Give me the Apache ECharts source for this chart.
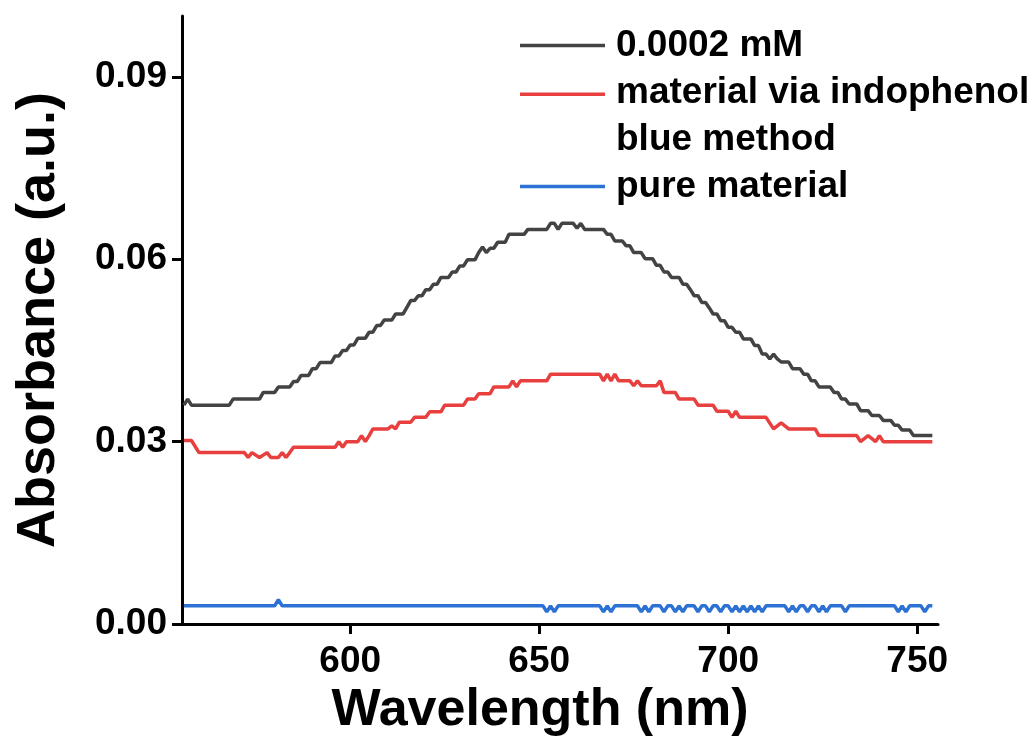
<!DOCTYPE html>
<html>
<head>
<meta charset="utf-8">
<script src="https://cdn.jsdelivr.net/npm/echarts@6/dist/echarts.min.js"></script>
<style>
html,body{margin:0;padding:0;background:#fff;}
#chart{width:1036px;height:742px;}
</style>
</head>
<body>
<div id="chart"></div>
<script>
// ---- data ----
const seriesNames = ['0.0002 mM', 'material via indophenol\nblue method', 'pure material'];
const xTicks = [600, 650, 700, 750];
const yTicks = [0, 0.03, 0.06, 0.09];

const wlBlack = [556,557,558,568,569,576,577,580,581,584,585,586,587,589,590,591,592,595,596,597,598,599,600,601,602,604,605,606,607,608,609,611,612,614,615,616,617,618,619,620,621,622,623,624,626,627,628,629,630,631,633,634,635,636,637,638,639,641,642,646,647,652,653,654,655,656,659,660,661,662,667,668,669,670,672,673,674,675,677,678,680,681,682,683,684,685,687,688,689,690,691,692,693,694,695,696,697,698,699,700,701,702,703,704,706,707,708,709,710,711,712,713,714,716,717,719,720,721,722,723,724,727,728,729,730,731,732,734,735,737,738,740,741,743,744,745,746,748,749,754];
const absBlack = [0.0360,0.0370,0.0360,0.0360,0.0370,0.0370,0.0381,0.0381,0.0390,0.0390,0.0399,0.0399,0.0409,0.0409,0.0420,0.0420,0.0430,0.0430,0.0441,0.0441,0.0450,0.0450,0.0459,0.0459,0.0470,0.0470,0.0480,0.0480,0.0491,0.0491,0.0500,0.0500,0.0510,0.0510,0.0521,0.0532,0.0532,0.0540,0.0540,0.0550,0.0550,0.0559,0.0559,0.0570,0.0570,0.0579,0.0579,0.0589,0.0589,0.0599,0.0599,0.0611,0.0620,0.0611,0.0618,0.0618,0.0628,0.0628,0.0641,0.0641,0.0649,0.0649,0.0659,0.0659,0.0649,0.0659,0.0659,0.0651,0.0659,0.0649,0.0649,0.0641,0.0641,0.0630,0.0630,0.0622,0.0622,0.0611,0.0611,0.0601,0.0601,0.0590,0.0590,0.0579,0.0579,0.0570,0.0570,0.0559,0.0559,0.0550,0.0540,0.0540,0.0529,0.0529,0.0520,0.0510,0.0510,0.0499,0.0499,0.0488,0.0488,0.0480,0.0480,0.0469,0.0469,0.0458,0.0458,0.0444,0.0444,0.0436,0.0444,0.0436,0.0431,0.0431,0.0420,0.0420,0.0411,0.0411,0.0400,0.0400,0.0390,0.0390,0.0381,0.0381,0.0370,0.0370,0.0362,0.0362,0.0351,0.0351,0.0343,0.0343,0.0335,0.0335,0.0327,0.0327,0.0319,0.0319,0.0310,0.0310];

const wlRed = [556,558,560,572,573,574,576,578,579,581,582,583,584,585,596,597,598,599,602,603,604,605,606,610,611,612,613,616,617,620,621,624,625,630,631,633,634,637,638,642,643,644,645,652,653,666,667,668,669,670,671,674,675,676,677,681,682,683,686,687,691,692,696,697,700,701,702,703,710,712,714,716,723,724,734,735,737,739,740,741,754];
const absRed = [0.0302,0.0302,0.0282,0.0282,0.0274,0.0282,0.0274,0.0282,0.0274,0.0274,0.0282,0.0274,0.0282,0.0291,0.0291,0.0300,0.0291,0.0300,0.0300,0.0310,0.0300,0.0310,0.0321,0.0321,0.0326,0.0321,0.0332,0.0332,0.0340,0.0340,0.0349,0.0349,0.0360,0.0360,0.0370,0.0370,0.0379,0.0379,0.0390,0.0390,0.0400,0.0390,0.0400,0.0400,0.0411,0.0411,0.0400,0.0411,0.0400,0.0411,0.0400,0.0400,0.0392,0.0400,0.0392,0.0392,0.0400,0.0381,0.0381,0.0370,0.0370,0.0360,0.0360,0.0350,0.0350,0.0340,0.0350,0.0340,0.0340,0.0321,0.0331,0.0321,0.0321,0.0310,0.0310,0.0300,0.0310,0.0300,0.0310,0.0300,0.0300];

const wlBlue = [556,580,581,582,651,652,653,654,655,666,667,668,669,670,676,677,678,679,680,682,683,684,685,686,687,688,689,691,692,693,694,695,696,697,698,699,700,701,702,703,704,705,706,707,708,709,710,715,716,717,718,719,720,721,722,723,724,725,726,727,730,731,732,744,745,746,747,748,751,752,753,754];
const absBlue = [0.003,0.003,0.004,0.003,0.003,0.002,0.003,0.002,0.003,0.003,0.002,0.003,0.002,0.003,0.003,0.002,0.003,0.002,0.003,0.003,0.002,0.003,0.003,0.002,0.003,0.002,0.003,0.003,0.002,0.003,0.003,0.002,0.003,0.003,0.002,0.003,0.003,0.002,0.003,0.002,0.003,0.002,0.003,0.002,0.003,0.002,0.003,0.003,0.002,0.003,0.002,0.003,0.003,0.002,0.003,0.003,0.002,0.003,0.002,0.003,0.003,0.002,0.003,0.003,0.002,0.003,0.002,0.003,0.003,0.002,0.003,0.003];

const colors = ['#434343', '#e8403e', '#2c72d4'];

// ---- chart ----
const FONT = '"Liberation Sans", Arial, Helvetica, sans-serif';
const pair = (xs, ys) => xs.map((x, i) => [x, ys[i]]);
const chart = echarts.init(document.getElementById('chart'), null, {renderer: 'canvas'});

const axisCommon = {
  axisLine: {show: true, onZero: false, lineStyle: {color: '#000', width: 3}},
  axisTick: {show: true, inside: false, length: 10, lineStyle: {color: '#000', width: 3}},
  splitLine: {show: false},
  nameTextStyle: {color: '#000', fontWeight: 'bold', fontFamily: FONT}
};

const lineIcon = 'path://M0,0H85V3.5H0Z';
const lineIconTop = 'path://M0,0H85V3.5H0ZM0,47L0.01,47';

chart.setOption({
  animation: false,
  backgroundColor: '#fff',
  color: colors,
  grid: {left: 182, right: 98, top: 16, bottom: 113, containLabel: false},
  legend: {
    orient: 'vertical', left: 520, top: 22, padding: 0, itemGap: 0,
    itemWidth: 85, itemHeight: 47, selectedMode: false,
    itemStyle: {borderWidth: 0},
    textStyle: {fontSize: 37, fontWeight: 'bold', color: '#000', fontFamily: FONT, lineHeight: 47, padding: [0,0,0,6]},
    data: [
      {name: seriesNames[0], icon: lineIcon},
      {name: seriesNames[1], icon: lineIconTop},
      {name: seriesNames[2], icon: lineIcon}
    ]
  },
  xAxis: Object.assign({}, axisCommon, {
    type: 'value', min: 555.5, max: 755.5,
    name: 'Wavelength (nm)', nameLocation: 'middle', nameGap: 48,
    nameTextStyle: Object.assign({}, axisCommon.nameTextStyle, {fontSize: 52, padding: [0, 40, 0, 0]}),
    axisTick: Object.assign({}, axisCommon.axisTick, {customValues: xTicks}),
    axisLabel: {customValues: xTicks, margin: 19, color: '#000', fontSize: 37, fontWeight: 'bold', fontFamily: FONT}
  }),
  yAxis: Object.assign({}, axisCommon, {
    type: 'value', min: 0, max: 0.1,
    name: 'Absorbance (a.u.)', nameLocation: 'middle', nameGap: 116,
    nameTextStyle: Object.assign({}, axisCommon.nameTextStyle, {fontSize: 54}),
    axisTick: Object.assign({}, axisCommon.axisTick, {customValues: yTicks}),
    axisLabel: {customValues: yTicks, margin: 15, color: '#000', fontSize: 37, fontWeight: 'bold', fontFamily: FONT,
      formatter: v => v.toFixed(2)}
  }),
  series: [
    {name: seriesNames[0], type: 'line', data: pair(wlBlack, absBlack), showSymbol: false, lineStyle: {width: 3.5, color: colors[0]}, z: 3},
    {name: seriesNames[1], type: 'line', data: pair(wlRed, absRed), showSymbol: false, lineStyle: {width: 3.5, color: colors[1]}, z: 2},
    {name: seriesNames[2], type: 'line', data: pair(wlBlue, absBlue), showSymbol: false, lineStyle: {width: 3.5, color: colors[2]}, z: 1}
  ]
});
</script>
</body>
</html>
